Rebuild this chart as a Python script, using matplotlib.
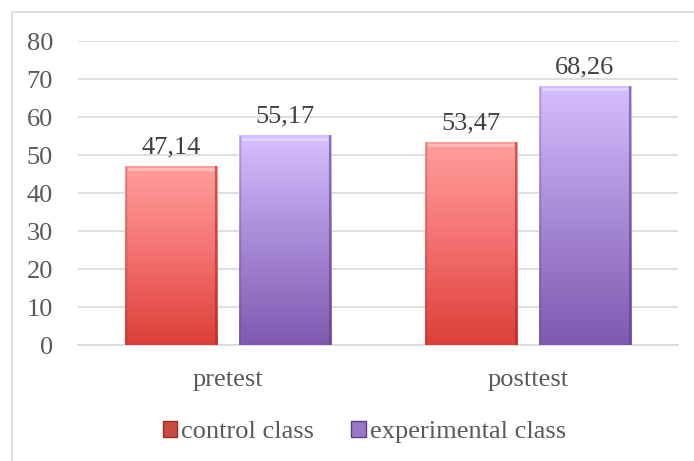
import numpy as np
import matplotlib.pyplot as plt
from matplotlib.patches import Rectangle
from matplotlib.colors import LinearSegmentedColormap

categories = ['pretest', 'posttest']
control = [47.14, 53.47]
experimental = [55.17, 68.26]
series_names = ['control class', 'experimental class']

plt.rcParams['font.family'] = ['Liberation Serif', 'DejaVu Serif']

fig = plt.figure(figsize=(6.94, 4.61), dpi=100)
ax = fig.add_axes([78/694, 1-345/461, 600/694, 304/461])

# outer border of the chart area (cut off at right and bottom like the original)
fig.patches.append(Rectangle((12/694, -0.05), 1.0, 1-12/461+0.05, transform=fig.transFigure,
                             fill=False, edgecolor='#d9d9d9', linewidth=1.2))

x = np.arange(len(categories))
w = 0.31
off = 0.19

cmap_red = LinearSegmentedColormap.from_list('r', ['#dc3f38', '#f47070', '#ff9f9b'])
cmap_pur = LinearSegmentedColormap.from_list('p', ['#7f5ab0', '#a88ad6', '#d6bfff'])

b1 = ax.bar(x - off, control, w, color='#f08080', edgecolor='none', zorder=2)
b2 = ax.bar(x + off, experimental, w, color='#b89ae0', edgecolor='none', zorder=2)

grad = np.linspace(0, 1, 256).reshape(-1, 1)
for bars, cm, edge in [(b1, cmap_red, '#a52a22'), (b2, cmap_pur, '#5a3f86')]:
    for r in bars:
        x0, y0 = r.get_x(), r.get_y()
        bw, bh = r.get_width(), r.get_height()
        im = ax.imshow(grad, cmap=cm, origin='lower', aspect='auto',
                       extent=(x0, x0 + bw, y0, y0 + bh), zorder=3)
        im.set_clip_path(r)
        # darker side edges
        ax.plot([x0 + bw*0.985]*2, [0, bh], color=edge, lw=1.5, alpha=0.6, zorder=4,
                solid_capstyle='butt')
        ax.plot([x0 + bw*0.015]*2, [0, bh], color=edge, lw=1.0, alpha=0.3, zorder=4,
                solid_capstyle='butt')
        # light bevel at top
        ax.plot([x0 + bw*0.04, x0 + bw*0.96], [bh - 0.9]*2,
                color='white', lw=2, alpha=0.35, zorder=4, solid_capstyle='butt')

for bars, vals in [(b1, control), (b2, experimental)]:
    for r, v in zip(bars, vals):
        ax.text(r.get_x() + r.get_width()/2, v + 2.0, ('%.2f' % v).replace('.', ','),
                ha='center', va='bottom', fontsize=19, color='#404040')

ax.set_xlim(-0.5, 1.5)
ax.set_ylim(0, 80)
ax.set_yticks(range(0, 81, 10))
ax.set_xticks(x)
ax.set_xticklabels(categories)
ax.tick_params(axis='y', length=0, labelsize=19, labelcolor='#595959', pad=18)
ax.tick_params(axis='x', length=0, labelsize=19, labelcolor='#595959', pad=17)
ax.grid(axis='y', color='#d9d9d9', linewidth=1.2, zorder=0)
ax.set_axisbelow(True)
for s in ['top', 'right', 'left']:
    ax.spines[s].set_visible(False)
ax.spines['bottom'].set_color('#d9d9d9')
ax.spines['bottom'].set_linewidth(1.2)

handles = [Rectangle((0, 0), 1, 1, facecolor='#c94a44', edgecolor='#a52a22'),
           Rectangle((0, 0), 1, 1, facecolor='#9a78c8', edgecolor='#5a3f86')]
leg = fig.legend(handles, series_names, loc='center', bbox_to_anchor=(0.525, 1-432/461),
                 ncol=2, frameon=False, fontsize=19, handlelength=0.55, handleheight=0.55,
                 handletextpad=0.15, columnspacing=1.4)
for t in leg.get_texts():
    t.set_color('#595959')

fig.savefig('out.png', dpi=100)
